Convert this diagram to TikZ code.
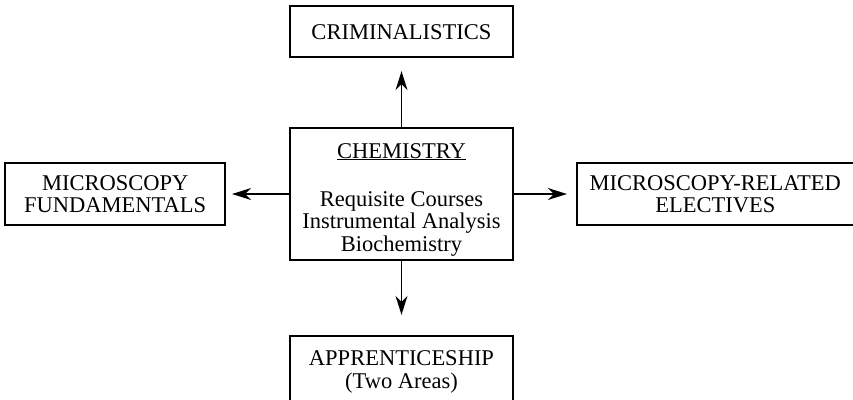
\documentclass[tikz,border=0pt]{standalone}
\usepackage{fontspec}
\setmainfont{Liberation Serif}
\usepackage{tikz}
\usetikzlibrary{
  arrows.meta,
  positioning
}

\begin{document}
\begin{tikzpicture}[
  node distance=69pt and 62pt,
  font=\fontsize{22.5}{22.5}\selectfont,
  course/.style={rectangle,draw,line width=1.8pt,align=center,inner sep=4pt},
  arrow/.style={-{Stealth[length=19pt,width=12pt,inset=6pt]},line width=1.4pt},
]
\useasboundingbox (0,0) rectangle (853pt,-399pt);
\clip (0,0) rectangle (853pt,-399pt);
\node[course,minimum width=223pt,minimum height=130pt] (chem) at (401.5pt,-194pt)
  {\rule{0pt}{26pt}\underline{CHEMISTRY}\\[25.5pt]Requisite Courses\\Instrumental Analysis\\Biochemistry};
\node[course,minimum width=223pt,minimum height=51pt,above=of chem] (crim) {CRIMINALISTICS};
\node[course,minimum width=220pt,minimum height=62pt,left=63pt of chem] (fund) {MICROSCOPY\\FUNDAMENTALS};
\node[course,minimum width=277pt,minimum height=62pt,right=of chem] (elect) {MICROSCOPY-RELATED\\ELECTIVES};
\node[course,minimum width=223pt,minimum height=72pt,below=74pt of chem] (appr) {APPRENTICESHIP\\(Two Areas)};

\draw[arrow,shorten >=13pt] (chem) -- (crim);
\draw[arrow,shorten >=20pt] (chem) -- (appr);
\draw[arrow,shorten >=6pt] (chem) -- (fund);
\draw[arrow,shorten >=9pt] (chem) -- (elect);
\end{tikzpicture}
\end{document}
